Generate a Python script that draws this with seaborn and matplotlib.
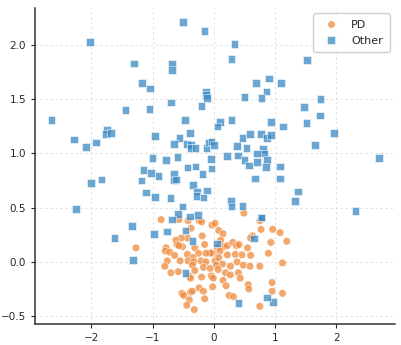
import numpy as np
import pandas as pd
import matplotlib
matplotlib.use("Agg")
import matplotlib.pyplot as plt
import seaborn as sns

# PD points (orange circles)
pd_x = [-1.27, -0.86, 0.49, -0.57, -0.42, -0.24, -0.20, -0.03, 0.02, -0.37,
        0.08, 0.15, 0.75, 0.77, 0.96, 1.08, 0.63, 0.60, -0.19, -0.43,
        -0.53, -0.62, -0.60, -0.51, -0.57, -0.78, -0.79, -0.72, -0.31, -0.15,
        0.11, 0.16, 0.22, 0.31, 0.37, 0.41, 0.06, 0.10, -0.01, -0.04,
        -0.06, 0.22, 0.35, 0.46, 0.60, 0.55, 0.93, 0.89, -0.43, -0.25,
        -0.34, -0.13, -0.64, -0.76, -0.55, -0.42, -0.33, -0.21, -0.13, 0.02,
        0.08, 0.14, 0.27, 0.38, 0.48, 0.59, 0.75, 1.12, -0.80, -0.70,
        -0.58, -0.35, -0.31, -0.17, -0.06, 0.04, 0.07, -0.40, -0.38, -0.20,
        -0.04, -0.01, 0.15, 0.19, 0.27, 0.40, 0.43, 0.20, -0.24, -0.02,
        -0.52, -0.49, -0.38, -0.35, -0.17, -0.40, -0.15, 0.25, 0.32, -0.44,
        -0.32, 0.56, 0.57, 0.95, 0.95, 0.75, 1.12, 1.19]
pd_y = [0.13, 0.39, 0.45, 0.39, 0.38, 0.38, 0.37, 0.34, 0.355, 0.31,
        0.29, 0.26, 0.38, 0.30, 0.30, 0.27, 0.24, 0.22, 0.24, 0.22,
        0.22, 0.20, 0.16, 0.14, 0.15, 0.13, 0.10, 0.09, 0.13, 0.16,
        0.20, 0.14, 0.15, 0.18, 0.15, 0.16, 0.13, 0.10, 0.08, 0.085,
        0.08, 0.065, 0.07, 0.065, 0.06, 0.13, 0.18, 0.08, 0.07, 0.08,
        0.04, 0.08, 0.06, 0.01, 0.01, 0.01, 0.00, 0.01, 0.00, 0.01,
        0.04, -0.02, -0.04, 0.00, -0.03, -0.04, -0.04, -0.01, -0.04, -0.10,
        -0.09, -0.03, -0.08, -0.05, -0.06, -0.03, -0.07, -0.13, -0.15, -0.14,
        -0.13, -0.15, -0.17, -0.10, -0.12, -0.10, -0.15, -0.22, -0.24, -0.23,
        -0.29, -0.31, -0.28, -0.27, -0.27, -0.35, -0.34, -0.31, -0.32, -0.40,
        -0.44, -0.21, -0.25, -0.19, -0.27, -0.41, -0.29, 0.19]

# Other points (blue squares)
other_x = [-2.02, -1.30, -1.17, -1.04, -1.44, -1.05, -2.65, -1.74, -1.76, -1.68,
           -2.28, -2.08, -1.92, -0.96, -1.00, -1.15, -1.02, -0.90, -2.00, -1.83,
           -1.18, -1.11, -0.96, -2.25, -1.33, -1.62, -0.98, -1.32, -0.50, -0.15,
           0.34, 0.29, -0.68, -0.68, 0.69, 0.90, 1.10, -0.13, -0.13, -0.11,
           0.86, 0.50, 0.78, -0.70, -0.20, -0.47, 0.10, 0.29, 0.06, 0.93,
           1.13, -0.39, -0.56, -0.65, -0.44, -0.37, -0.38, -0.30, -0.12, -0.08,
           -0.04, 0.00, 0.47, 0.59, 0.77, 0.87, 0.93, 0.38, 0.53, 0.80,
           0.82, 0.70, -0.78, -0.59, -0.05, 0.21, 0.39, 0.50, 0.70, 0.87,
           0.57, 0.85, 1.08, -0.43, -0.30, -0.04, 1.52, 1.74, 1.47, 1.73,
           1.51, 1.96, 1.65, 2.69, 1.08, 1.37, 1.32, 2.31, 0.96, -0.65,
           -0.65, -0.62, -0.185, -0.34, -0.27, -0.28, -0.11, -0.17, -0.71, -0.51,
           -0.58, -0.68, -0.39, -0.26, 0.28, 0.29, 0.47, 0.67, 0.765, 0.78,
           -0.76, -0.46, -0.35, 0.05, 0.65, -0.46, 0.40, 0.87]
other_y = [2.03, 1.83, 1.65, 1.60, 1.40, 1.41, 1.31, 1.22, 1.18, 1.19,
           1.13, 1.06, 1.10, 1.16, 0.96, 0.845, 0.82, 0.79, 0.73, 0.76,
           0.75, 0.64, 0.60, 0.49, 0.33, 0.22, 0.26, 0.015, 2.21, 2.13,
           2.01, 1.87, 1.83, 1.77, 1.65, 1.69, 1.65, 1.57, 1.54, 1.51,
           1.57, 1.52, 1.51, 1.47, 1.44, 1.31, 1.29, 1.31, 1.25, 1.29,
           1.25, 1.19, 1.14, 1.09, 1.09, 1.08, 1.05, 1.05, 1.05, 1.10,
           1.11, 1.08, 1.14, 1.18, 1.18, 1.14, 1.17, 1.07, 1.05, 1.04,
           1.00, 1.00, 0.94, 0.97, 0.95, 0.975, 0.98, 0.94, 0.92, 0.94,
           0.89, 0.875, 0.88, 0.87, 0.88, 0.86, 1.86, 1.50, 1.43, 1.35,
           1.28, 1.19, 1.08, 0.96, 0.77, 0.65, 0.56, 0.47, -0.37, 0.81,
           0.75, 0.76, 0.81, 0.71, 0.65, 0.61, 0.66, 0.595, 0.59, 0.51,
           0.44, 0.39, 0.42, 0.43, 0.56, 0.51, 0.515, 0.77, 0.41, 0.41,
           0.28, 0.29, 0.19, 0.17, 0.215, -0.10, -0.38, -0.33]

df = pd.DataFrame({
    "x": pd_x + other_x,
    "y": pd_y + other_y,
    "group": ["PD"] * len(pd_x) + ["Other"] * len(other_x),
})

sns.set_style("ticks")
plt.rcParams["font.family"] = ["DejaVu Sans"]

fig, ax = plt.subplots(figsize=(4.02, 3.45), dpi=100)
fig.subplots_adjust(left=0.087, right=0.983, bottom=0.061, top=0.977)

sns.scatterplot(data=df, x="x", y="y", hue="group", style="group",
                hue_order=["PD", "Other"], style_order=["PD", "Other"],
                markers={"PD": "o", "Other": "s"},
                palette={"PD": "#ee8a3c", "Other": "#3a89c4"},
                s=30, alpha=0.75, edgecolor="white", linewidth=0.5, ax=ax)

ax.set_xlabel("")
ax.set_ylabel("")
ax.set_xticks([-2, -1, 0, 1, 2])
ax.set_yticks([-0.5, 0.0, 0.5, 1.0, 1.5, 2.0])
ax.tick_params(labelsize=7.5, length=3, width=0.8)
ax.grid(True, linestyle=(0, (3, 3)), color="#dddddd", linewidth=0.6)
ax.set_axisbelow(True)
sns.despine(ax=ax)
for side in ["left", "bottom"]:
    ax.spines[side].set_linewidth(1.1)
    ax.spines[side].set_color("#333333")

leg = ax.legend(loc="upper right", fontsize=8, frameon=True, framealpha=0.9,
                edgecolor="#cccccc", borderpad=0.6, handletextpad=0.8)

fig.savefig("out.png", dpi=100)
